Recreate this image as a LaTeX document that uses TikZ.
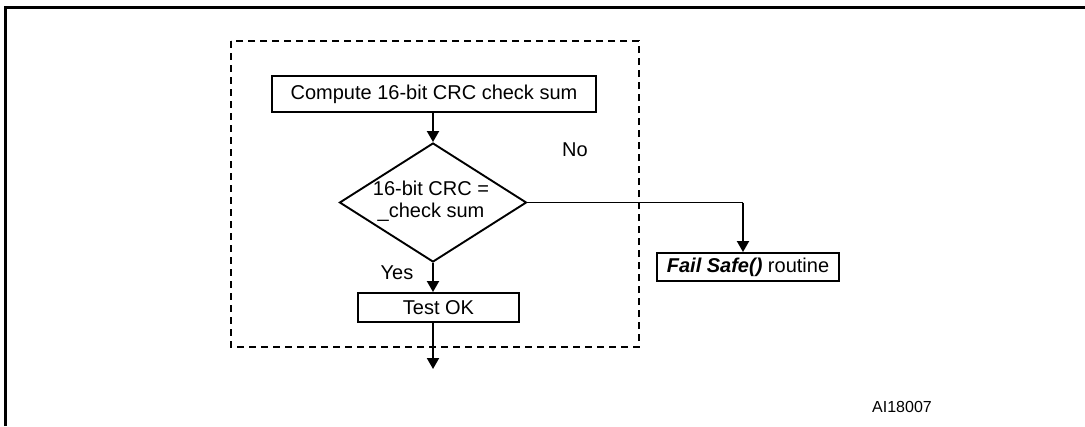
\documentclass[tikz,border=0pt]{standalone}
\usepackage{fontspec}
\setmainfont{Liberation Sans}
\usetikzlibrary{shapes.geometric,arrows.meta}
\begin{document}
\begin{tikzpicture}[x=1pt,y=-1pt,
  txt/.style={font=\fontsize{20}{22}\selectfont, inner sep=0pt},
  stepbox/.style={draw, line width=1.9pt, txt, anchor=center},
  dia/.style={draw, line width=1.9pt, shape=diamond, aspect=1.57, inner sep=0pt,
              minimum width=187pt, minimum height=119pt},
  flow/.style={line width=1.9pt, -{Triangle[length=11pt,width=12pt]}},
  link/.style={line width=1.9pt}
]
\useasboundingbox (0,0) rectangle (1085,426);

% outer frame (top and left edges)
\draw[line width=2.6pt] (5.5,426) -- (5.5,7.5) -- (1090,7.5);

% dashed group around the check
\draw[line width=2pt, dash pattern=on 7pt off 5pt] (231,41) rectangle (639,347);

% flow steps
\node[stepbox, minimum width=324pt, minimum height=36pt] (comp) at (434,94) {Compute 16-bit CRC check sum};
\node[dia] (chk) at (433,202.5) {};
\node[txt, align=center] (chktxt) at (431,201.5) {16-bit CRC =\\\_check sum};
\node[stepbox, minimum width=161pt, minimum height=29pt] (ok) at (438.5,307.5) {Test OK};
\node[stepbox, minimum width=182pt, minimum height=28pt] (fs) at (748,267) {\textbf{\textit{Fail Safe()}} routine};
\coordinate (out) at (433,369);

% connectors
\draw[flow] (comp.south -| chk.north) -- (chk.north);
\draw[flow] (chk.south) -- (ok.north -| chk.south);
\draw[flow] (ok.south -| chk.south) -- (out);
\draw[link] (chk.east) -- (743,202.5) coordinate (turn);
\draw[flow] (turn) -- (fs.north -| turn);

% branch labels
\node[txt] (no) at (575,150) {No};
\node[txt] (yes) at (397,273) {Yes};
\node[inner sep=0pt, font=\fontsize{16}{18}\selectfont] (ref) at (902,407) {AI18007};
\end{tikzpicture}
\end{document}
